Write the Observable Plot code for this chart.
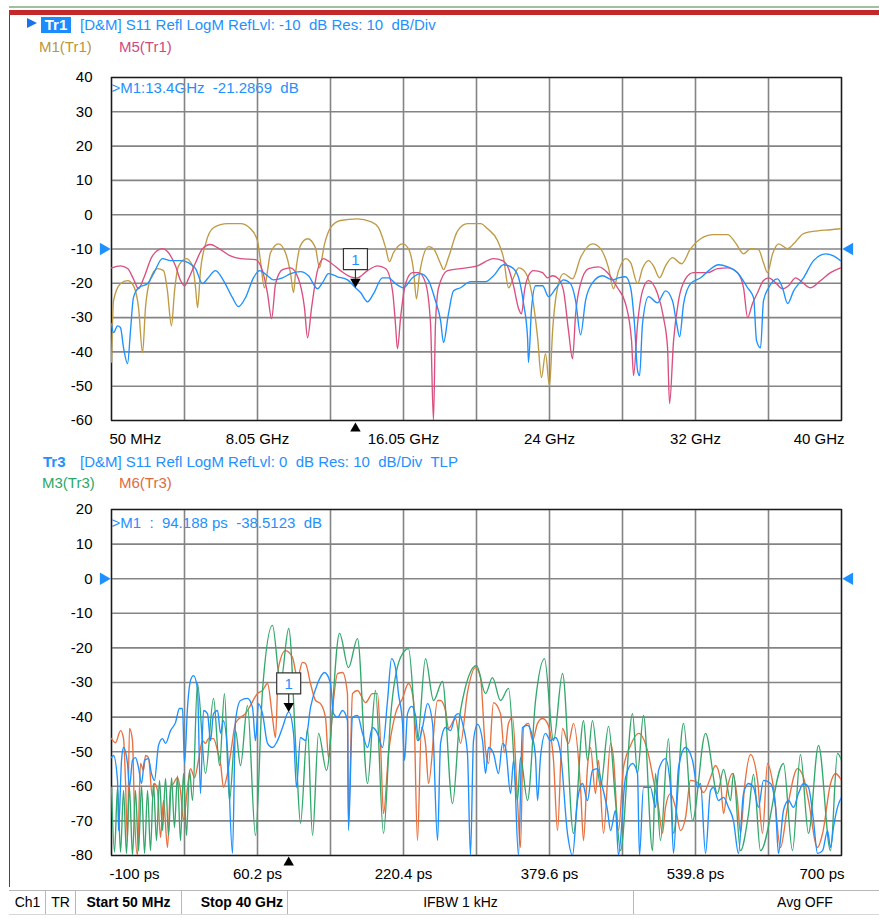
<!DOCTYPE html>
<html><head><meta charset="utf-8">
<script src="https://cdn.jsdelivr.net/npm/d3@7"></script>
<script src="https://cdn.jsdelivr.net/npm/@observablehq/plot@0.6"></script>
<style>
body{margin:0;background:#fff;font-family:"Liberation Sans",Arial,sans-serif;}
#page{position:relative;width:879px;height:918px;overflow:hidden;background:#fff;}
.abs{position:absolute;white-space:pre;font-size:15px;line-height:16px;}
svg text{white-space:pre;}
.cell{position:absolute;top:0;height:23px;line-height:23px;font-size:14px;color:#000;border-right:1px solid #b8b8b8;text-align:center;white-space:pre;}
</style></head><body>
<div id="page">
  <div class="abs" style="left:9px;top:6px;width:870px;height:2px;background:#9fbf9f;"></div>
  <div class="abs" style="left:9px;top:10px;width:870px;height:5px;background:#c4282b;"></div>
  <div class="abs" style="left:9px;top:15px;width:1px;height:872px;background:#8a2a2a;"></div>
  <div class="abs" style="left:27px;top:18px;width:0;height:0;border-left:10px solid #1a73e8;border-top:5px solid transparent;border-bottom:5px solid transparent;"></div>
  <div class="abs" style="left:41px;top:17px;width:30px;height:16px;background:#1a8cff;color:#fff;font-weight:bold;text-align:center;">Tr1</div>
  <div class="abs" style="left:80px;top:17px;color:#1e90ff;">[D&amp;M] S11 Refl LogM RefLvl: -10  dB Res: 10  dB/Div</div>
  <div class="abs" style="left:39px;top:39px;color:#b8963c;">M1(Tr1)</div>
  <div class="abs" style="left:119px;top:39px;color:#d04a80;">M5(Tr1)</div>
  <div id="topPlot" class="abs" style="left:0;top:60px;"></div>
  <div class="abs" style="left:43px;top:454px;color:#1e90ff;font-weight:bold;">Tr3</div>
  <div class="abs" style="left:80px;top:454px;color:#1e90ff;">[D&amp;M] S11 Refl LogM RefLvl: 0  dB Res: 10  dB/Div  TLP</div>
  <div class="abs" style="left:42px;top:475px;color:#2aa86a;">M3(Tr3)</div>
  <div class="abs" style="left:119px;top:475px;color:#e06a40;">M6(Tr3)</div>
  <div id="botPlot" class="abs" style="left:0;top:495px;"></div>
  <div class="abs" style="left:9px;top:890px;width:870px;height:23px;background:#fff;border-top:1px solid #b8b8b8;border-bottom:1px solid #d8d8d8;">
    <div class="cell" style="left:1px;width:35px;">Ch1</div>
    <div class="cell" style="left:37px;width:29px;">TR</div>
    <div class="cell" style="left:67px;width:105px;font-weight:bold;">Start 50 MHz</div>
    <div class="cell" style="left:173px;width:105px;font-weight:bold;text-align:right;padding-right:0;">Stop 40 GHz </div>
    <div class="cell" style="left:279px;width:345px;">IFBW 1 kHz</div>
    <div class="cell" style="left:625px;width:245px;border-right:none;"></div>
    <div class="cell" style="left:758px;width:76px;border-right:none;">Avg OFF</div>
  </div>
</div>
<script>
// ---------- colours ----------
const BLUE = "#1e90ff", GOLD = "#bf9a45", PINK = "#da4f80", GREEN = "#33a86c", ORANGE = "#e8703e";

// ---------- top panel (frequency domain): [GHz, dB] ----------
const topYTicks = [40, 30, 20, 10, 0, -10, -20, -30, -40, -50, -60];
const topXGrid = [0.05, 4.045, 8.04, 12.035, 16.03, 20.025, 24.02, 28.015, 32.01, 36.005, 40];
const topXTickValues = [0.05, 8.04, 16.03, 24.02, 32.01, 40];
const topXTickLabels = ["50 MHz", "8.05 GHz", "16.05 GHz", "24 GHz", "32 GHz", "40 GHz"];
const topRefLevel = -10;
const topMarker = {x: 13.4, y: -21.2869};
const topMarkerText = ">M1:13.4GHz  -21.2869  dB";

const m1Tr1Gold = [[0.05,-43],[0.16,-25.1],[0.54,-20.1],[0.93,-19.2],[1.25,-20.7],[1.53,-27.1],[1.75,-40.2],[1.91,-27.1],[2.18,-18.7],[2.57,-15.7],[2.9,-16.3],[3.11,-22.2],[3.33,-32.4],[3.5,-22.2],[3.72,-14.9],[4.15,-12.8],[4.48,-14.9],[4.65,-21.3],[4.76,-27.1],[4.92,-16.3],[5.2,-8.5],[5.63,-3.8],[6.4,-2.6],[7.11,-2.6],[7.66,-4.1],[8.04,-7.6],[8.2,-13.4],[8.42,-21.3],[8.59,-16.3],[8.75,-11.1],[9.19,-8.5],[9.57,-11.1],[9.85,-17.2],[10.01,-22.7],[10.12,-17.2],[10.39,-9.0],[10.78,-7.0],[11.21,-9.6],[11.43,-15.5],[11.71,-8.5],[12.04,-3.8],[12.58,-1.7],[13.51,-1.2],[14.23,-2.0],[14.66,-3.8],[15.05,-9.6],[15.26,-13.7],[15.48,-11.1],[15.98,-8.5],[16.3,-9.9],[16.58,-16.3],[16.74,-24.5],[16.91,-17.2],[17.4,-9.3],[17.67,-9.9],[18.06,-14.3],[18.22,-16.0],[18.49,-12.5],[18.99,-4.7],[19.53,-2.6],[19.86,-2.6],[20.25,-2.6],[20.63,-4.1],[21.18,-7.6],[21.5,-12.5],[21.78,-21.3],[22.05,-18.4],[22.33,-15.5],[22.71,-16.9],[23.09,-24.2],[23.37,-35.9],[23.58,-47.5],[23.8,-40.5],[24.02,-49.9],[24.19,-33.8],[24.46,-21.3],[24.79,-17.2],[25.28,-18.7],[25.72,-12.5],[26.38,-8.5],[26.81,-9.9],[27.25,-15.5],[27.52,-21.6],[27.8,-16.3],[28.18,-12.8],[28.46,-14.0],[28.84,-20.1],[29.11,-15.7],[29.44,-13.4],[29.71,-14.9],[30.04,-18.4],[30.37,-14.9],[30.75,-12.5],[31.25,-14.3],[31.74,-9.9],[32.29,-7.0],[33.0,-5.8],[33.77,-5.8],[34.2,-8.2],[34.64,-11.4],[35.02,-9.9],[35.46,-10.2],[35.73,-14.0],[35.95,-16.9],[36.23,-11.4],[36.56,-8.5],[37.05,-9.9],[37.38,-8.5],[37.92,-5.5],[38.69,-4.7],[39.4,-4.4],[39.95,-4.1]];

const m5Tr1Pink = [[0.05,-15.5],[0.54,-14.9],[0.93,-15.7],[1.25,-18.7],[1.53,-21.6],[1.8,-18.7],[2.29,-12.0],[2.84,-9.9],[3.17,-11.1],[3.55,-14.9],[3.83,-19.2],[4.05,-20.7],[4.26,-18.7],[4.65,-14.0],[5.03,-9.9],[5.47,-8.7],[5.85,-9.6],[6.56,-12.0],[7.11,-12.8],[7.93,-13.1],[8.31,-16.3],[8.59,-23.0],[8.81,-30.3],[9.03,-20.1],[9.41,-16.0],[9.85,-15.5],[10.28,-18.7],[10.61,-27.1],[10.78,-35.9],[11.0,-27.1],[11.32,-16.3],[11.65,-12.8],[12.04,-14.0],[12.58,-16.3],[13.13,-18.1],[13.51,-18.4],[14.06,-16.3],[14.61,-14.9],[15.05,-15.7],[15.43,-22.2],[15.59,-31.8],[15.7,-39.1],[15.87,-30.0],[16.14,-20.1],[16.52,-16.9],[16.85,-16.9],[17.23,-19.8],[17.51,-31.8],[17.67,-60],[17.78,-31.8],[17.95,-21.3],[18.44,-16.3],[19.15,-15.7],[20.08,-14.9],[20.96,-12.8],[21.45,-13.4],[21.78,-15.7],[22.05,-20.7],[22.33,-27.4],[22.49,-28.9],[22.65,-22.2],[22.87,-17.8],[23.15,-16.3],[23.64,-16.9],[23.91,-18.4],[24.19,-17.8],[24.51,-18.7],[24.79,-22.2],[25.06,-33.8],[25.28,-42.0],[25.45,-28.9],[25.72,-20.1],[26.16,-15.7],[26.7,-15.2],[27.2,-16.9],[27.74,-21.3],[28.18,-25.9],[28.51,-36.7],[28.62,-46.9],[28.84,-31.8],[29.11,-22.2],[29.44,-19.2],[29.93,-23.0],[30.26,-30.0],[30.48,-38.8],[30.59,-55.1],[30.81,-36.7],[31.08,-25.1],[31.46,-18.7],[31.9,-16.9],[32.67,-16.9],[33.22,-15.7],[33.77,-15.5],[34.31,-16.9],[34.64,-21.3],[34.86,-30.0],[35.13,-25.9],[35.41,-22.7],[35.73,-19.2],[36.01,-18.4],[36.39,-19.8],[36.77,-21.6],[37.1,-20.7],[37.49,-18.4],[37.87,-19.8],[38.31,-21.3],[38.86,-19.2],[39.4,-16.9],[39.95,-15.5]];

const tr1Blue = [[0.05,-31.8],[0.16,-34.4],[0.38,-32.4],[0.54,-32.9],[0.71,-38.8],[0.93,-43.4],[1.09,-33.8],[1.25,-24.2],[1.53,-21.3],[2.02,-20.1],[2.35,-17.2],[2.84,-12.8],[3.28,-13.4],[3.83,-13.4],[4.26,-14.0],[4.65,-15.7],[5.03,-20.1],[5.3,-18.7],[5.74,-16.3],[6.18,-19.2],[6.67,-24.2],[7.0,-26.8],[7.38,-24.2],[7.82,-18.4],[8.15,-16.3],[8.59,-17.8],[8.92,-19.0],[9.41,-18.4],[9.85,-17.2],[10.39,-16.6],[10.83,-17.8],[11.32,-21.6],[11.6,-19.8],[11.93,-17.2],[12.42,-18.1],[12.97,-19.0],[13.4,-21.29],[13.68,-22.7],[14.06,-25.4],[14.39,-23.0],[14.88,-18.4],[15.21,-18.4],[15.59,-20.1],[16.03,-21.3],[16.52,-18.4],[16.96,-17.2],[17.4,-19.2],[17.78,-25.1],[18.06,-30.9],[18.22,-37.3],[18.49,-28.9],[18.77,-22.2],[19.15,-21.3],[19.7,-19.5],[20.52,-19.5],[20.96,-17.8],[21.5,-14.6],[22.0,-15.5],[22.33,-18.4],[22.6,-25.9],[22.82,-35.9],[22.87,-43.1],[23.04,-27.1],[23.26,-20.7],[23.64,-20.7],[23.97,-23.9],[24.35,-21.6],[24.79,-19.0],[25.17,-20.1],[25.45,-25.1],[25.72,-35.0],[25.99,-25.1],[26.38,-19.8],[26.92,-17.8],[27.47,-19.0],[27.8,-18.4],[28.18,-18.1],[28.46,-21.3],[28.67,-31.8],[28.84,-45.5],[28.95,-46.9],[29.11,-31.8],[29.44,-23.9],[29.93,-25.7],[30.37,-22.2],[30.75,-25.1],[30.97,-31.5],[31.14,-35.6],[31.36,-25.9],[31.74,-20.1],[32.29,-18.4],[32.73,-16.3],[33.27,-14.6],[33.77,-15.2],[34.31,-16.9],[34.86,-21.3],[35.19,-24.2],[35.35,-36.7],[35.57,-38.8],[35.73,-25.1],[36.01,-21.3],[36.5,-18.7],[36.77,-21.3],[37.05,-25.9],[37.38,-22.2],[37.92,-18.4],[38.47,-13.4],[39.13,-11.4],[39.56,-12.0],[39.95,-13.4]];

// ---------- bottom panel (time domain): [ps, dB] ----------
const botYTicks = [20, 10, 0, -10, -20, -30, -40, -50, -60, -70, -80];
const botXGrid = [-100, -20, 60, 140, 220, 300, 380, 460, 540, 620, 700];
const botXTickValues = [-100, 60, 220, 380, 540, 700];
const botXTickLabels = ["-100 ps", "60.2 ps", "220.4 ps", "379.6 ps", "539.8 ps", "700 ps"];
const botRefLevel = 0;
const botMarker = {x: 94.188, y: -38.5123};
const botMarkerText = ">M1  :  94.188 ps  -38.5123  dB";

const m3Tr3Green = [[-100,-60.3],[-96.7,-79],[-93.4,-60.3],[-90.1,-79],[-86.8,-61.2],[-83.6,-79.4],[-80.3,-60.3],[-77.0,-80],[-73.7,-61.2],[-70.4,-78.6],[-67.1,-59.8],[-63.8,-79.4],[-60.5,-61.2],[-57.3,-78.6],[-54.0,-59.2],[-50.7,-75.7],[-47.4,-58.3],[-44.1,-72.8],[-40.8,-57.7],[-37.5,-74.2],[-34.2,-57.5],[-31.0,-71.9],[-27.7,-57.0],[-24.4,-75.7],[-21.1,-56.3],[-17.8,-74.2],[-14.5,-55.4],[-11.2,-64.1],[-5.8,-30.3],[3.0,-56.3],[11.8,-34.6],[18.4,-54.0],[23.8,-33.2],[29.3,-64.1],[35.9,-43.9],[41.4,-54.0],[49.0,-36.6],[57.8,-74.2],[65.5,-32.3],[76.4,-13.5],[85.2,-30.3],[94.2,-14.4],[102.7,-52.5],[107.1,-70.7],[114.8,-43.3],[120.3,-74.2],[126.9,-44.7],[135.6,-55.4],[149.9,-15.8],[159.7,-25.7],[169.6,-17.3],[180.6,-59.2],[189.3,-32.3],[198.1,-73.6],[205.8,-40.1],[216.7,-22.8],[225.5,-20.2],[235.3,-46.8],[244.1,-23.1],[252.9,-35.2],[262.7,-29.7],[273.7,-65.0],[282.5,-38.1],[300.0,-25.1],[309.9,-33.2],[317.5,-28.6],[326.3,-35.2],[335.1,-31.7],[344.9,-64.1],[348.2,-51.7],[355.9,-64.1],[364.7,-35.2],[374.5,-23.1],[384.4,-46.8],[394.3,-27.4],[406.3,-73.6],[417.3,-41.0],[421.6,-52.5],[427.1,-41.0],[435.9,-60.3],[444.7,-42.7],[452.3,-64.1],[457.8,-78.6],[471.0,-39.0],[476.4,-56.3],[483.0,-39.5],[492.9,-78.6],[496.2,-56.3],[501.6,-75.7],[510.4,-46.2],[515.9,-73.6],[526.9,-41.8],[536.7,-69.9],[551.0,-44.7],[564.1,-62.1],[570.7,-55.1],[578.4,-64.1],[581.6,-56.3],[589.3,-78.6],[598.1,-67.9],[603.6,-56.6],[611.2,-78.6],[636.4,-53.4],[646.3,-78.6],[655.0,-50.8],[663.8,-73.6],[674.8,-48.2],[688.0,-78.6],[695.6,-50.5],[700,-52.5]];

const m6Tr3Orange = [[-100,-46.2],[-95.6,-47.4],[-90.1,-43.9],[-86.8,-46.2],[-84.7,-58.3],[-82.5,-75.7],[-80.3,-43.3],[-77.0,-46.8],[-74.8,-67.9],[-71.5,-80],[-68.2,-53.4],[-64.9,-55.4],[-62.7,-51.1],[-59.5,-51.7],[-55.1,-63.2],[-52.9,-59.2],[-49.6,-61.2],[-46.3,-74.8],[-43.0,-64.1],[-38.6,-77.7],[-35.3,-60.3],[-32.1,-59.2],[-27.7,-57.5],[-24.4,-61.2],[-21.1,-69.9],[-16.7,-60.3],[-13.4,-54.9],[-9.0,-57.5],[-4.7,-52.5],[-0.3,-46.8],[3.0,-47.6],[6.3,-46.2],[11.8,-46.2],[16.2,-49.7],[19.5,-53.4],[22.7,-60.3],[27.1,-56.3],[31.5,-48.8],[35.9,-41.8],[41.4,-40.1],[46.9,-39.0],[52.3,-36.6],[60.0,-33.2],[65.5,-32.3],[71.0,-30.3],[76.4,-40.1],[79.7,-45.9],[83.0,-25.7],[90.7,-20.8],[98.4,-22.8],[103.8,-28.6],[109.3,-24.2],[112.6,-24.5],[118.1,-30.3],[123.6,-35.2],[129.0,-36.1],[134.5,-40.1],[137.8,-51.7],[142.2,-38.1],[147.7,-27.4],[153.2,-27.1],[158.6,-33.2],[159.7,-70.7],[164.1,-33.2],[169.6,-32.3],[178.4,-35.8],[186.0,-33.2],[191.5,-33.2],[194.8,-47.6],[198.1,-67.9],[203.6,-50.5],[211.2,-39.0],[218.9,-34.6],[225.5,-30.3],[231.0,-35.2],[235.3,-75.7],[239.7,-43.0],[244.1,-47.6],[247.4,-59.2],[257.3,-35.2],[260.6,-35.2],[266.0,-38.1],[269.3,-43.3],[277.0,-40.4],[282.5,-47.6],[290.1,-32.9],[298.9,-25.7],[304.4,-28.6],[309.9,-49.7],[313.2,-53.4],[318.6,-35.8],[326.3,-39.0],[330.7,-50.2],[335.1,-41.8],[339.5,-40.1],[344.9,-64.1],[348.2,-77.7],[351.5,-43.0],[357.0,-41.8],[361.4,-46.8],[366.9,-41.8],[372.3,-40.4],[377.8,-41.8],[384.4,-52.5],[388.8,-72.8],[394.3,-43.3],[400.8,-47.6],[406.3,-41.8],[414.0,-60.3],[417.3,-75.7],[421.6,-54.6],[424.9,-48.8],[430.4,-62.1],[433.7,-52.5],[439.2,-73.6],[446.9,-47.6],[450.1,-51.7],[455.6,-72.8],[461.1,-54.6],[468.8,-48.2],[477.5,-44.7],[487.4,-49.7],[494.0,-58.3],[499.5,-66.1],[503.8,-73.6],[507.1,-66.1],[512.6,-62.1],[518.1,-66.1],[523.6,-72.8],[529.1,-69.0],[534.5,-58.3],[542.2,-58.9],[548.8,-61.8],[556.4,-57.5],[561.9,-54.0],[567.4,-58.3],[570.7,-67.9],[575.1,-60.3],[580.5,-56.3],[586.0,-64.1],[589.3,-73.6],[593.7,-60.3],[600.3,-50.8],[608.0,-58.3],[613.4,-73.6],[618.9,-53.4],[625.5,-60.3],[633.1,-77.7],[640.8,-66.1],[651.8,-54.9],[658.4,-57.5],[663.8,-64.1],[673.7,-77.7],[679.3,-73.6],[688.0,-59.2],[693.4,-56.3],[700,-58.3]];

const tr3Blue = [[-100,-51.7],[-97.8,-51.1],[-93.4,-58.3],[-92.3,-72.8],[-89.0,-52.5],[-86.8,-48.8],[-82.5,-53.4],[-80.3,-60.3],[-77.0,-52.5],[-73.7,-51.7],[-70.4,-54.6],[-67.1,-59.2],[-63.8,-52.5],[-59.5,-52.0],[-56.2,-56.3],[-52.9,-58.3],[-48.5,-48.2],[-44.1,-46.2],[-40.8,-47.6],[-35.3,-43.9],[-29.9,-41.6],[-25.5,-37.5],[-22.2,-37.5],[-20.0,-53.4],[-16.7,-37.2],[-13.4,-29.4],[-10.1,-28.0],[-5.8,-31.7],[-2.5,-62.1],[0.8,-38.1],[5.2,-39.0],[8.5,-46.8],[11.8,-39.0],[16.2,-38.1],[19.5,-44.7],[22.7,-41.0],[27.1,-49.7],[32.6,-79.4],[35.9,-41.0],[41.4,-35.2],[49.0,-34.6],[54.5,-37.2],[57.8,-46.8],[61.1,-36.1],[65.5,-39.0],[71.0,-47.6],[76.4,-48.8],[81.9,-46.8],[87.4,-43.0],[94.188,-38.51],[99.5,-44.7],[102.7,-60.3],[107.1,-45.9],[112.6,-46.8],[118.1,-37.2],[125.8,-30.3],[133.4,-27.1],[140.0,-30.3],[143.3,-39.0],[147.7,-40.1],[153.2,-38.1],[158.6,-41.0],[159.7,-72.8],[164.1,-40.1],[169.6,-39.5],[175.1,-44.7],[180.6,-48.8],[186.0,-43.0],[191.5,-44.7],[197.0,-48.8],[202.5,-35.2],[206.9,-23.1],[211.2,-25.7],[214.5,-33.2],[218.9,-41.8],[221.1,-52.5],[224.4,-39.0],[228.8,-36.9],[233.2,-39.5],[236.4,-46.8],[240.8,-43.0],[246.3,-36.1],[251.8,-41.8],[257.3,-75.7],[260.6,-47.6],[266.0,-43.0],[271.5,-43.9],[277.0,-39.5],[280.3,-39.0],[285.7,-43.0],[290.1,-50.5],[293.4,-80],[296.7,-46.8],[301.1,-42.1],[306.6,-46.8],[309.9,-56.3],[313.2,-48.8],[318.6,-50.5],[324.1,-56.3],[328.5,-47.6],[331.8,-48.8],[337.3,-62.1],[340.6,-52.5],[346.0,-80],[350.4,-43.0],[355.9,-42.4],[361.4,-45.9],[364.7,-51.7],[366.9,-64.1],[370.1,-51.7],[375.6,-44.7],[381.1,-46.8],[386.6,-45.9],[392.1,-50.5],[399.7,-73.6],[405.2,-80],[410.7,-64.1],[416.2,-59.2],[421.6,-64.1],[427.1,-55.4],[432.6,-54.9],[438.1,-60.3],[443.6,-67.0],[446.9,-72.8],[452.3,-67.0],[455.6,-80],[463.3,-57.5],[471.0,-53.4],[476.4,-56.3],[478.6,-80],[483.0,-60.3],[490.7,-60.3],[496.2,-66.1],[499.5,-55.4],[507.1,-52.0],[512.6,-60.3],[515.9,-79.4],[521.4,-54.6],[529.1,-48.8],[536.7,-52.5],[542.2,-60.3],[545.5,-59.2],[551.0,-79.4],[556.4,-61.2],[559.7,-60.3],[565.2,-64.1],[570.7,-63.2],[576.2,-66.1],[581.6,-69.9],[587.1,-79.4],[592.6,-62.1],[598.1,-59.2],[603.6,-60.3],[609.0,-66.1],[614.5,-58.3],[622.2,-59.2],[627.7,-66.1],[630.9,-79.4],[636.4,-67.0],[641.9,-64.1],[647.4,-66.1],[652.8,-62.1],[658.4,-59.2],[663.8,-60.3],[669.3,-69.9],[673.7,-79.4],[679.3,-78.6],[684.7,-72.8],[688.0,-77.7],[691.2,-71.9],[695.6,-66.1],[700,-63.2]];

// ---------- helpers ----------
const FONT = "Liberation Sans, Arial, sans-serif";
const FS = 15;
const boxSymbol = {draw(ctx) {
  ctx.moveTo(-12, -39); ctx.lineTo(12, -39); ctx.lineTo(12, -18); ctx.lineTo(-12, -18); ctx.closePath();
  ctx.moveTo(0, -18); ctx.lineTo(0, -9);
}};

function xLabelMarks(values, labels) {
  const rows = values.map((v, i) => ({v, label: labels[i], i}));
  const n = rows.length;
  const common = {x: "v", text: "label", frameAnchor: "bottom", lineAnchor: "middle", dy: 19, fontSize: FS, fill: "#000"};
  return [
    Plot.text(rows.filter(d => d.i === 0), {...common, textAnchor: "start", dx: -2}),
    Plot.text(rows.filter(d => d.i > 0 && d.i < n - 1), common),
    Plot.text(rows.filter(d => d.i === n - 1), {...common, textAnchor: "end", dx: 3})
  ];
}

function panel({height, marginTop, marginBottom, xDomain, yDomain, xGrid, yTicks, xTickValues, xTickLabels,
                series, refLevel, marker, markerText, markerTextDy, stimDy}) {
  const mk = [marker];
  return Plot.plot({
    width: 879, height, marginLeft: 111, marginRight: 38, marginTop, marginBottom,
    x: {domain: xDomain, axis: null},
    y: {domain: yDomain, axis: null},
    style: {fontFamily: FONT, fontSize: FS + "px", background: "transparent", color: "#000", overflow: "visible"},
    marks: [
      Plot.text([markerText], {text: d => d, frameAnchor: "top-left", lineAnchor: "middle", textAnchor: "start", dy: markerTextDy, fill: BLUE, fontSize: FS}),
      Plot.ruleX(xGrid, {stroke: "#848484", strokeWidth: 1.6}),
      Plot.ruleY(yTicks, {stroke: "#848484", strokeWidth: 1.6}),
      Plot.frame({stroke: "#1a1a1a", strokeWidth: 1.3}),
      Plot.axisY(yTicks, {tickSize: 0, tickPadding: 19, tickFormat: d => String(d), fontSize: FS, fill: "#000", label: null}),
      ...xLabelMarks(xTickValues, xTickLabels),
      ...series.map(s => Plot.line(s.data, {x: d => d[0], y: d => d[1], stroke: s.color, strokeWidth: 1.35, curve: "monotone-x", clip: true})),
      // reference level arrows
      Plot.dot([refLevel], {x: () => xDomain[0], y: d => d, symbol: "triangle2", rotate: 90, r: 6, fill: BLUE, dx: -8}),
      Plot.dot([refLevel], {x: () => xDomain[1], y: d => d, symbol: "triangle2", rotate: -90, r: 6, fill: BLUE, dx: 8}),
      // marker 1
      Plot.dot(mk, {x: "x", y: "y", symbol: boxSymbol, r: 5, fill: "#fff", stroke: "#333", strokeWidth: 1.2}),
      Plot.text(mk, {x: "x", y: "y", text: () => "1", dy: -28, fill: BLUE, fontSize: 15}),
      Plot.dot(mk, {x: "x", y: "y", symbol: "triangle2", rotate: 180, r: 5, fill: "#000", dy: -6}),
      Plot.dot(mk, {x: "x", y: () => yDomain[0], symbol: "triangle2", r: 5, fill: "#000", dy: stimDy})
    ]
  });
}

document.getElementById("topPlot").append(panel({
  height: 390, marginTop: 17, marginBottom: 30,
  xDomain: [0.05, 40], yDomain: [-60, 40],
  xGrid: topXGrid, yTicks: topYTicks, xTickValues: topXTickValues, xTickLabels: topXTickLabels,
  series: [{data: m1Tr1Gold, color: GOLD}, {data: m5Tr1Pink, color: PINK}, {data: tr1Blue, color: BLUE}],
  refLevel: topRefLevel, marker: topMarker, markerText: topMarkerText, markerTextDy: 11, stimDy: 8
}));

document.getElementById("botPlot").append(panel({
  height: 400, marginTop: 14, marginBottom: 40,
  xDomain: [-100, 700], yDomain: [-80, 20],
  xGrid: botXGrid, yTicks: botYTicks, xTickValues: botXTickValues, xTickLabels: botXTickLabels,
  series: [{data: m6Tr3Orange, color: ORANGE}, {data: m3Tr3Green, color: GREEN}, {data: tr3Blue, color: BLUE}],
  refLevel: botRefLevel, marker: botMarker, markerText: botMarkerText, markerTextDy: 14, stimDy: 7
}));
</script>
</body></html>
